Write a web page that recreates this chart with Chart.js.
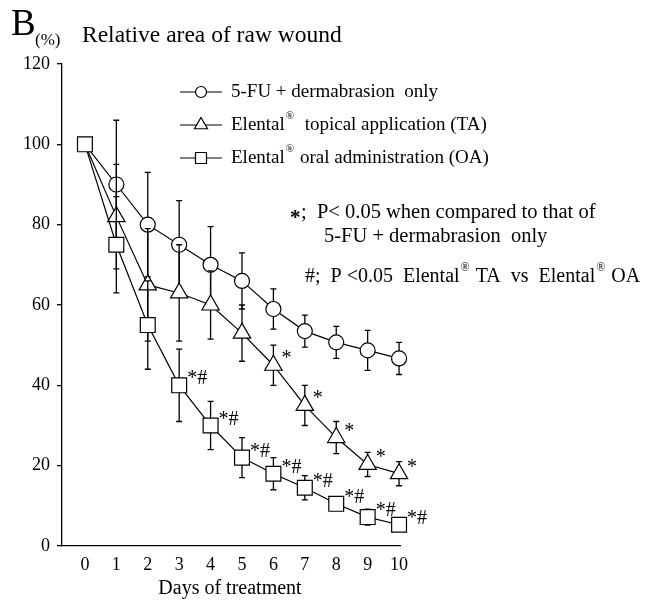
<!DOCTYPE html>
<html lang="en">
<head>
<meta charset="UTF-8">
<title>Relative area of raw wound</title>
<script src="https://cdn.jsdelivr.net/npm/chart.js"></script>
<style>
  body { margin: 0; background: #fff; }
  #wrap { width: 646px; height: 609px; }
</style>
</head>
<body>
<div id="wrap"><canvas id="woundChart" width="646" height="609"></canvas></div>
<script>
const days = [0, 1, 2, 3, 4, 5, 6, 7, 8, 9, 10];
const fuOnly = [100, 90, 80, 75, 70, 66, 59, 53.5, 50.7, 48.7, 46.7];
const fuOnlySd = [0, 16, 13, 11, 9.5, 7, 5, 4, 4, 5, 4];
const topical = [100, 82, 65, 63, 60, 53, 45, 35, 27, 20.3, 18];
const topicalSd = [0, 13, 14, 12, 8.5, 7, 5, 5, 4, 3, 3];
const oral = [100, 75, 55, 40, 30, 22, 18, 14.5, 10.5, 7.2, 5.3];
const oralSd = [0, 12, 11, 9, 6, 5, 4, 3, 1, 2, 1];
const topicalMarks = ['', '', '', '', '', '', '*', '*', '*', '*', '*'];
const oralMarks = ['', '', '', '*#', '*#', '*#', '*#', '*#', '*#', '*#', '*#'];
const xTicks = [0, 1, 2, 3, 4, 5, 6, 7, 8, 9, 10];
const yTicks = [0, 20, 40, 60, 80, 100, 120];

const serif = "'Liberation Serif', 'Times New Roman', serif";

// text with ® raised as superscript
function drawRich(ctx, str, x, y, size) {
    const parts = str.split('®');
    parts.forEach((p, i) => {
        ctx.font = size + 'px ' + serif;
        ctx.fillText(p, x, y);
        x += ctx.measureText(p).width;
        if (i < parts.length - 1) {
            ctx.font = Math.round(size * 0.6) + 'px ' + serif;
            ctx.fillText('®', x + 1, y - size * 0.45);
            x += ctx.measureText('®').width + 2;
        }
    });
}

function drawMarker(ctx, style, x, y, r) {
    ctx.beginPath();
    if (style === 'circle') {
        ctx.arc(x, y, r, 0, Math.PI * 2);
    } else if (style === 'triangle') {
        ctx.moveTo(x, y - r);
        ctx.lineTo(x + r * 0.87, y + r * 0.5);
        ctx.lineTo(x - r * 0.87, y + r * 0.5);
        ctx.closePath();
    } else {
        ctx.rect(x - r, y - r, 2 * r, 2 * r);
    }
    ctx.fillStyle = '#fff';
    ctx.fill();
    ctx.stroke();
}

const errorBars = {
    id: 'errorBars',
    beforeDatasetDraw(chart, args) {
        const ds = chart.data.datasets[args.index];
        const ctx = chart.ctx, xs = chart.scales.x, ys = chart.scales.y;
        ctx.save();
        ctx.strokeStyle = '#000';
        ctx.lineWidth = 1.3;
        ds.data.forEach((pt, i) => {
            const sd = ds.sd[i];
            if (!sd) return;
            const px = xs.getPixelForValue(pt.x);
            const top = ys.getPixelForValue(pt.y + sd), bot = ys.getPixelForValue(pt.y - sd);
            ctx.beginPath();
            ctx.moveTo(px, top); ctx.lineTo(px, bot);
            ctx.moveTo(px - 3, top); ctx.lineTo(px + 3, top);
            ctx.moveTo(px - 3, bot); ctx.lineTo(px + 3, bot);
            ctx.stroke();
        });
        ctx.restore();
    },
    afterDatasetDraw(chart, args) {
        const ds = chart.data.datasets[args.index];
        if (!ds.marks) return;
        const ctx = chart.ctx, xs = chart.scales.x, ys = chart.scales.y;
        ctx.save();
        ctx.fillStyle = '#000';
        ctx.font = '20px ' + serif;
        ctx.textBaseline = 'alphabetic';
        ds.data.forEach((pt, i) => {
            if (!ds.marks[i]) return;
            ctx.fillText(ds.marks[i], xs.getPixelForValue(pt.x) + 8, ys.getPixelForValue(pt.y) - 1);
        });
        ctx.restore();
    }
};

const annotations = {
    id: 'annotations',
    afterDraw(chart) {
        const ctx = chart.ctx;
        ctx.save();
        ctx.fillStyle = '#000';
        ctx.strokeStyle = '#000';
        ctx.textBaseline = 'alphabetic';

        ctx.font = '37px ' + serif;
        ctx.fillText('B', 11, 35);
        ctx.font = '17px ' + serif;
        ctx.fillText('(%)', 35, 45);
        ctx.font = '23.5px ' + serif;
        ctx.fillText('Relative area of raw wound', 82, 42);

        // legend
        const rows = [92, 125, 158];
        chart.data.datasets.forEach((ds, i) => {
            const y = rows[i];
            ctx.lineWidth = 1.2;
            ctx.beginPath();
            ctx.moveTo(180, y); ctx.lineTo(222, y);
            ctx.stroke();
            drawMarker(ctx, ds.pointStyle, 201, y, ds.pointStyle === 'triangle' ? 7.5 : 5.5);
            ctx.fillStyle = '#000';
            ctx.textBaseline = 'middle';
            drawRich(ctx, ds.label, 231, y, 19);
        });

        // notes
        ctx.textBaseline = 'middle';
        ctx.font = 'bold 21px ' + serif;
        ctx.fillText('*', 290, 219);
        drawRich(ctx, ';  P< 0.05 when compared to that of', 301, 213, 20.5);
        drawRich(ctx, '5-FU + dermabrasion  only', 324, 237, 20.5);
        drawRich(ctx, '#;  P <0.05  Elental® TA  vs  Elental® OA', 305, 277, 20);

        ctx.font = '20px ' + serif;
        ctx.textAlign = 'center';
        ctx.fillText('Days of treatment', 230, 589);
        ctx.restore();
    }
};

function series(label, data, sd, style, radius, order, marks, showFirst) {
    return {
        label: label,
        data: data.map((v, i) => ({x: days[i], y: v})),
        sd: sd,
        marks: marks,
        order: order,
        borderColor: '#000',
        borderWidth: 1.2,
        pointStyle: style,
        // day 0 is shared by all groups, only the square is shown there
        pointRadius: (c) => (c.dataIndex === 0 && !showFirst) ? 0 : radius,
        pointBackgroundColor: '#fff',
        pointBorderColor: '#000',
        pointBorderWidth: 1.2,
        tension: 0,
        clip: false
    };
}

new Chart(document.getElementById('woundChart'), {
    type: 'line',
    data: {
        datasets: [
            series('5-FU + dermabrasion  only', fuOnly, fuOnlySd, 'circle', 7.5, 3, null, false),
            series('Elental®  topical application (TA)', topical, topicalSd, 'triangle', 10, 2, topicalMarks, false),
            series('Elental® oral administration (OA)', oral, oralSd, 'rect', 10.5, 1, oralMarks, true)
        ]
    },
    options: {
        responsive: false,
        animation: false,
        layout: {padding: {top: 64, right: 246, bottom: 0, left: 0}},
        plugins: {legend: {display: false}, tooltip: {enabled: false}},
        scales: {
            x: {
                type: 'linear',
                min: -0.73,
                max: 10.03,
                afterFit: (s) => { s.height = 63; },
                afterBuildTicks: (s) => { s.ticks = xTicks.map(v => ({value: v})); },
                grid: {display: false, drawTicks: false},
                border: {display: true, color: '#000', width: 1.3},
                ticks: {color: '#000', padding: 8, font: {family: serif, size: 18}, maxRotation: 0}
            },
            y: {
                min: 0,
                max: 120,
                afterFit: (s) => { s.width = 62; },
                afterBuildTicks: (s) => { s.ticks = yTicks.map(v => ({value: v})); },
                grid: {display: true, drawOnChartArea: false, drawTicks: true, tickLength: 5, color: '#000', lineWidth: 1.3},
                border: {display: true, color: '#000', width: 1.3},
                ticks: {color: '#000', padding: 7, font: {family: serif, size: 18}}
            }
        }
    },
    plugins: [errorBars, annotations]
});
</script>
</body>
</html>
